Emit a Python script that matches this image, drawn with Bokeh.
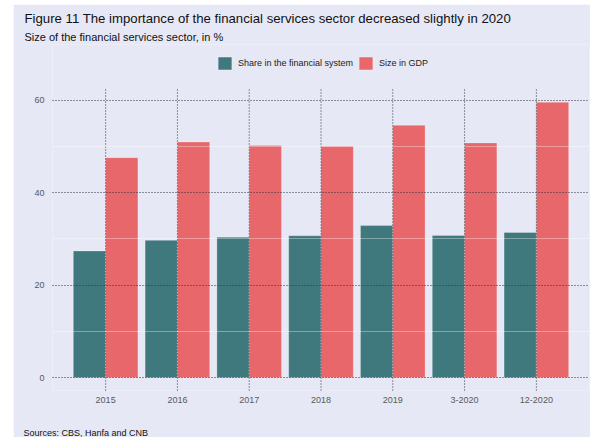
from bokeh.plotting import figure
from bokeh.models import (ColumnDataSource, FactorRange, Range1d, Legend, LegendItem,
                          Title, FixedTicker)
from bokeh.transform import dodge
from bokeh.embed import file_html
from bokeh.resources import INLINE

categories = ["2015", "2016", "2017", "2018", "2019", "3-2020", "12-2020"]
share_in_financial_system = [27.4, 29.7, 30.4, 30.7, 32.9, 30.75, 31.4]
size_in_gdp = [47.6, 51.0, 50.25, 50.1, 54.6, 50.8, 59.6]
series_names = ["Share in the financial system", "Size in GDP"]
y_ticks = [0, 20, 40, 60]
y_minor = [10, 30, 50]
Y_LO, Y_HI = -2.8, 62.8      # extent of the plotting panel (grid lines)
Y_TOP = 72.1                 # extra room above the panel for the legend

BG = "#E6E8F5"
TEAL = "#3F797E"
RED = "#E8676A"
GRID = "#2E3140"
FONT = "Liberation Sans"

src = ColumnDataSource(dict(cat=categories, share=share_in_financial_system, gdp=size_in_gdp))

p = figure(x_range=FactorRange(*categories, range_padding=0.24, range_padding_units="absolute"),
           y_range=Range1d(Y_LO, Y_TOP),
           width=577, height=433, output_backend="svg", toolbar_location=None,
           background_fill_color=BG, border_fill_color=BG, outline_line_color=None,
           min_border_left=39, min_border_right=1, min_border_top=40, min_border_bottom=47)
p.margin = (4, 0, 0, 13)

r1 = p.vbar(x=dodge("cat", -0.225, range=p.x_range), top="share", width=0.45, source=src,
            fill_color=TEAL, line_color="white", line_alpha=0.25)
r2 = p.vbar(x=dodge("cat", 0.225, range=p.x_range), top="gdp", width=0.45, source=src,
            fill_color=RED, line_color="white", line_alpha=0.25)

# vertical grid lines at the category centres, limited to the panel
p.xgrid.grid_line_color = None
p.segment(x0=categories, y0=[Y_LO] * len(categories), x1=categories, y1=[Y_HI] * len(categories),
          line_color=GRID, line_dash="1 2", line_width=1, level="overlay")

p.ygrid.grid_line_color = GRID
p.ygrid.grid_line_dash = "1 2"
p.ygrid.grid_line_width = 1
p.ygrid.level = "overlay"
p.ygrid.minor_grid_line_color = "white"
p.ygrid.minor_grid_line_alpha = 0.35

p.yaxis.ticker = FixedTicker(ticks=y_ticks, minor_ticks=y_minor)
for ax in (p.xaxis, p.yaxis):
    ax.axis_line_color = None
    ax.major_tick_line_color = None
    ax.minor_tick_line_color = None
    ax.major_tick_out = 0
    ax.major_tick_in = 0
    ax.major_label_text_font = FONT
    ax.major_label_text_font_size = "9px"
    ax.major_label_text_color = "#595959"
p.xaxis.major_label_standoff = 6
p.yaxis.major_label_standoff = 4

legend = Legend(items=[LegendItem(label=series_names[0], renderers=[r1]),
                       LegendItem(label=series_names[1], renderers=[r2])],
                orientation="horizontal", location=(164, 319),
                background_fill_alpha=0, border_line_color=None,
                glyph_width=17, glyph_height=16, label_height=16,
                label_standoff=5, spacing=4, padding=0, margin=0,
                label_text_font=FONT, label_text_font_size="9px", label_text_color="#222222")
p.add_layout(legend, "center")

sub = Title(text="Size of the financial services sector, in %", align="left", offset=-28,
            text_font=FONT, text_font_size="11px", text_font_style="normal", text_color="#111111",
            standoff=4)
p.add_layout(sub, "above")
ttl = Title(text="Figure 11 The importance of the financial services sector decreased slightly in 2020",
            align="left", offset=-28, text_font=FONT, text_font_size="13.2px",
            text_font_style="normal", text_color="#111111", standoff=2)
p.add_layout(ttl, "above")

spacer = Title(text=" ", text_font=FONT, text_font_size="9px", standoff=8)
p.add_layout(spacer, "below")
src_t = Title(text="Sources: CBS, Hanfa and CNB", align="left", offset=-29,
              text_font=FONT, text_font_size="9px", text_font_style="normal", text_color="#111111",
              standoff=0, vertical_align="bottom")
p.add_layout(src_t, "below")

open("out.html", "w").write(file_html(p, INLINE))
